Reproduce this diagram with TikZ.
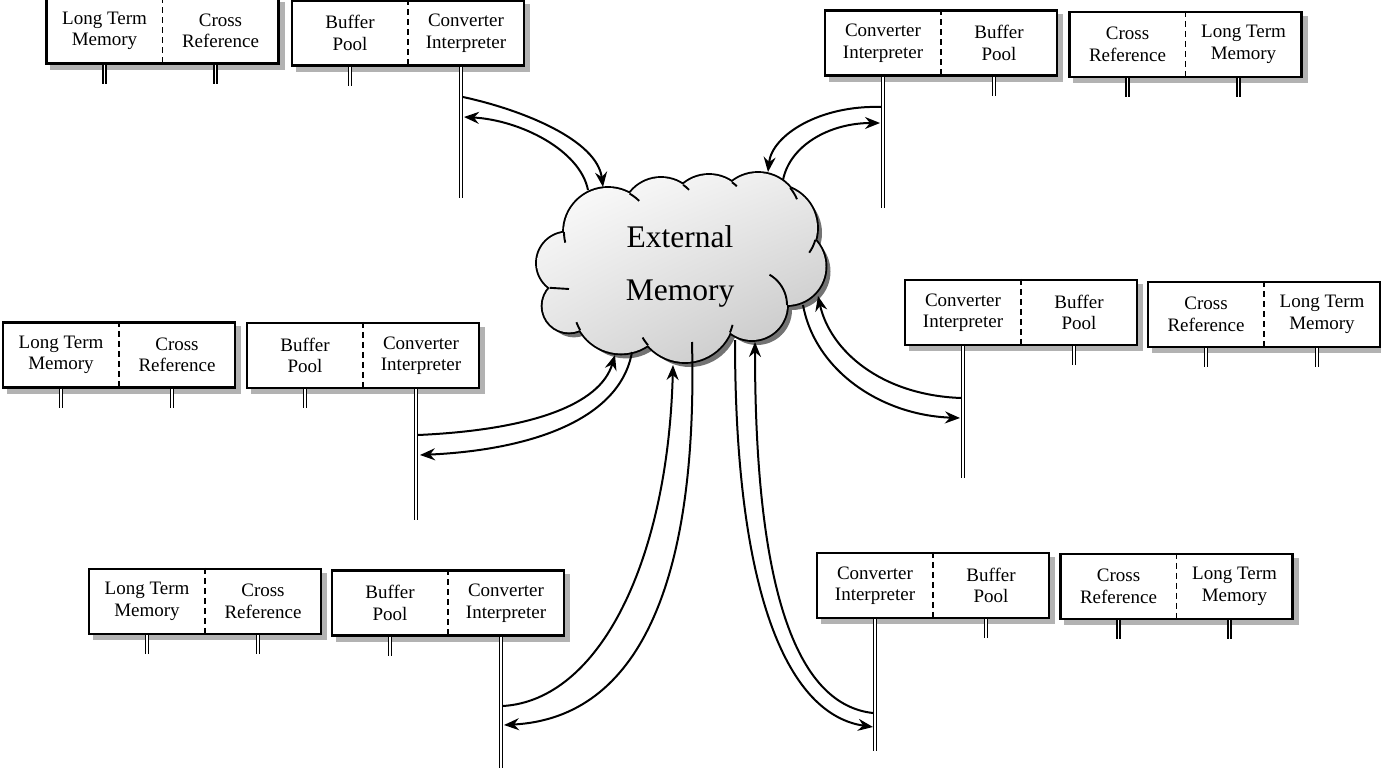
\documentclass[tikz,border=0pt]{standalone}
\usepackage{fontspec}
\setmainfont{Liberation Serif}
\usetikzlibrary{arrows.meta,backgrounds,calc,shadings}

\tikzset{
  unit/.style={draw, line width=2.1pt, fill=white, minimum width=232pt, minimum height=65pt, inner sep=0pt},
  lbl/.style={align=center, inner sep=0pt, font=\fontsize{19}{21.5}\selectfont},
  divider/.style={line width=1.8pt, dash pattern=on 6pt off 4pt},
  bus/.style={double, double distance=1.8pt, line width=1.3pt},
  flow/.style={line width=2pt, -{Stealth[length=15pt, width=12pt, inset=5pt]}},
  boxshade/.style={fill=black!30},
  cloudline/.style={line width=1.9pt},
  puffs/.style={insert path={
    (608,232) circle[radius=44] (661,217) circle[radius=39]
    (709,215) circle[radius=40] (758,215) circle[radius=42]
    (774,228) circle[radius=43] (787,266.5) circle[radius=38.5]
    (752,305) circle[radius=35] (685,313) circle[radius=49]
    (621,306) circle[radius=47.4] (569,306) circle[radius=26.4]
    (567.5,263) circle[radius=30.5]}},
  core/.style={insert path={(685,265) ellipse[x radius=110, y radius=60]}},
}

% a framed record with two fields split by a dashed rule
\newcommand\dualbox[5]{%
  \node[unit] (#1) at (#2,#3) {};
  \node[lbl] (#1-l) at ([xshift=-58pt]#1.center) {#4};
  \node[lbl] (#1-r) at ([xshift=58pt]#1.center) {#5};
  \draw[divider] (#1.north) -- (#1.south);
  \coordinate (#1-ls) at ([xshift=-58pt]#1.south);
  \coordinate (#1-rs) at ([xshift=53pt]#1.south);
  \coordinate (#1-le) at ([yshift=-19pt]#1-ls);
  \coordinate (#1-re) at ([yshift=-19pt]#1-rs);
  \begin{scope}[on background layer]
    \fill[boxshade] ([shift={(5pt,-5pt)}]#1.south west) rectangle ([shift={(5pt,-5pt)}]#1.north east);
  \end{scope}
}

% one inner stroke of a cloud puff
\newcommand\puffarc[5]{%
  \draw[cloudline] plot[domain=#4:#5, samples=12, smooth] ({#1+#3*cos(\x)},{#2+#3*sin(\x)});}

\begin{document}
\begin{tikzpicture}[x=1pt,y=-1pt]
\useasboundingbox (0,0) rectangle (1381,771);

% ---------- cloud ----------
\fill[black!55, shift={(5,5)}, puffs, core];
\draw[line width=3.8pt, puffs];
\shade[upper left=white, upper right=black!8, lower left=black!12, lower right=black!24, puffs, core];
\puffarc{608}{232}{44}{166}{180}
\puffarc{608}{232}{44}{-60.6}{-45}
\puffarc{661}{217}{39}{-55.5}{-44}
\puffarc{709}{215}{40}{-55}{-46}
\puffarc{758}{215}{42}{-40}{-22}
\puffarc{774}{228}{43}{16}{35}
\puffarc{752}{305}{35}{-60}{0}
\puffarc{685}{313}{49}{14}{23.5}
\puffarc{685}{313}{49}{139}{150}
\puffarc{621}{306}{47.4}{149.6}{160}
\draw[cloudline] (549.8,287.8) -- (569,289);
\node[font=\fontsize{31.5}{53}\selectfont, align=center, inner sep=0pt] (mem) at (680,266) {External\\Memory};

% ---------- record groups ----------
\dualbox{tlA}{162.5}{31}{Long Term\\Memory}{Cross\\Reference}
\dualbox{tlB}{408}{33}{Buffer\\Pool}{Converter\\Interpreter}
\dualbox{trA}{941}{43}{Converter\\Interpreter}{Buffer\\Pool}
\dualbox{trB}{1185.5}{44.5}{Cross\\Reference}{Long Term\\Memory}
\dualbox{mlA}{119}{355}{Long Term\\Memory}{Cross\\Reference}
\dualbox{mlB}{363}{355.5}{Buffer\\Pool}{Converter\\Interpreter}
\dualbox{mrA}{1021}{312.5}{Converter\\Interpreter}{Buffer\\Pool}
\dualbox{mrB}{1264}{314.5}{Cross\\Reference}{Long Term\\Memory}
\dualbox{blA}{205}{601.5}{Long Term\\Memory}{Cross\\Reference}
\dualbox{blB}{448}{603}{Buffer\\Pool}{Converter\\Interpreter}
\dualbox{brA}{933}{585.5}{Converter\\Interpreter}{Buffer\\Pool}
\dualbox{brB}{1176.5}{586.5}{Cross\\Reference}{Long Term\\Memory}

% short stubs
\foreach \b in {tlA,trB,mlA,mrB,blA,brB}{
  \draw[bus] (\b-ls) -- (\b-le);
  \draw[bus] (\b-rs) -- (\b-re);
}
\foreach \b in {tlB,mlB,blB}{\draw[bus] (\b-ls) -- (\b-le);}
\foreach \b in {trA,mrA,brA}{\draw[bus] (\b-rs) -- (\b-re);}

% long converter lines
\coordinate (tl-end) at (tlB-rs |- 0,198);
\coordinate (ml-end) at (mlB-rs |- 0,520);
\coordinate (bl-end) at (blB-rs |- 0,768);
\coordinate (tr-end) at (trA-ls |- 0,208);
\coordinate (mr-end) at (mrA-ls |- 0,478);
\coordinate (br-end) at (brA-ls |- 0,751);
\draw[bus] (tlB-rs) -- (tl-end);
\draw[bus] (mlB-rs) -- (ml-end);
\draw[bus] (blB-rs) -- (bl-end);
\draw[bus] (trA-ls) -- (tr-end);
\draw[bus] (mrA-ls) -- (mr-end);
\draw[bus] (brA-ls) -- (br-end);

% ---------- exchanges with the cloud ----------
\coordinate (tl-out) at (463,97);   \coordinate (tl-in) at (464,117);
\coordinate (c-tl-in) at (603,187); \coordinate (c-tl-out) at (588,190);
\draw[flow] (tl-out) .. controls (523,110) and (597,140) .. (c-tl-in);
\draw[flow] (c-tl-out) .. controls (580,150) and (520,120) .. (tl-in);

\coordinate (tr-out) at (881,107);  \coordinate (tr-in) at (880,123);
\coordinate (c-tr-in) at (768,172); \coordinate (c-tr-out) at (783,180);
\draw[flow] (tr-out) .. controls (820,105) and (772,135) .. (c-tr-in);
\draw[flow] (c-tr-out) .. controls (790,145) and (830,123) .. (tr-in);

\coordinate (mr-out) at (961,398);  \coordinate (mr-in) at (960,418);
\coordinate (c-mr-in) at (818,296); \coordinate (c-mr-out) at (803,305);
\draw[flow] (mr-out) .. controls (880,395) and (830,350) .. (c-mr-in);
\draw[flow] (c-mr-out) .. controls (815,370) and (880,415) .. (mr-in);

\coordinate (ml-out) at (418,435);  \coordinate (ml-in) at (420,455);
\coordinate (c-ml-in) at (615,355); \coordinate (c-ml-out) at (632,352);
\draw[flow] (ml-out) .. controls (530,430) and (600,405) .. (c-ml-in);
\draw[flow] (c-ml-out) .. controls (620,420) and (530,450) .. (ml-in);

\coordinate (bl-out) at (503,706);  \coordinate (bl-in) at (504,725);
\coordinate (c-bl-in) at (673,365); \coordinate (c-bl-out) at (692,342);
\draw[flow] (bl-out) .. controls (600,700) and (668,560) .. (c-bl-in);
\draw[flow] (c-bl-out) .. controls (698,580) and (640,718) .. (bl-in);

\coordinate (br-out) at (873,713);  \coordinate (br-in) at (873,727);
\coordinate (c-br-in) at (755,342); \coordinate (c-br-out) at (735,340);
\draw[flow] (c-br-out) .. controls (735,600) and (790,715) .. (br-in);
\draw[flow] (br-out) .. controls (800,705) and (755,600) .. (c-br-in);
\end{tikzpicture}
\end{document}
